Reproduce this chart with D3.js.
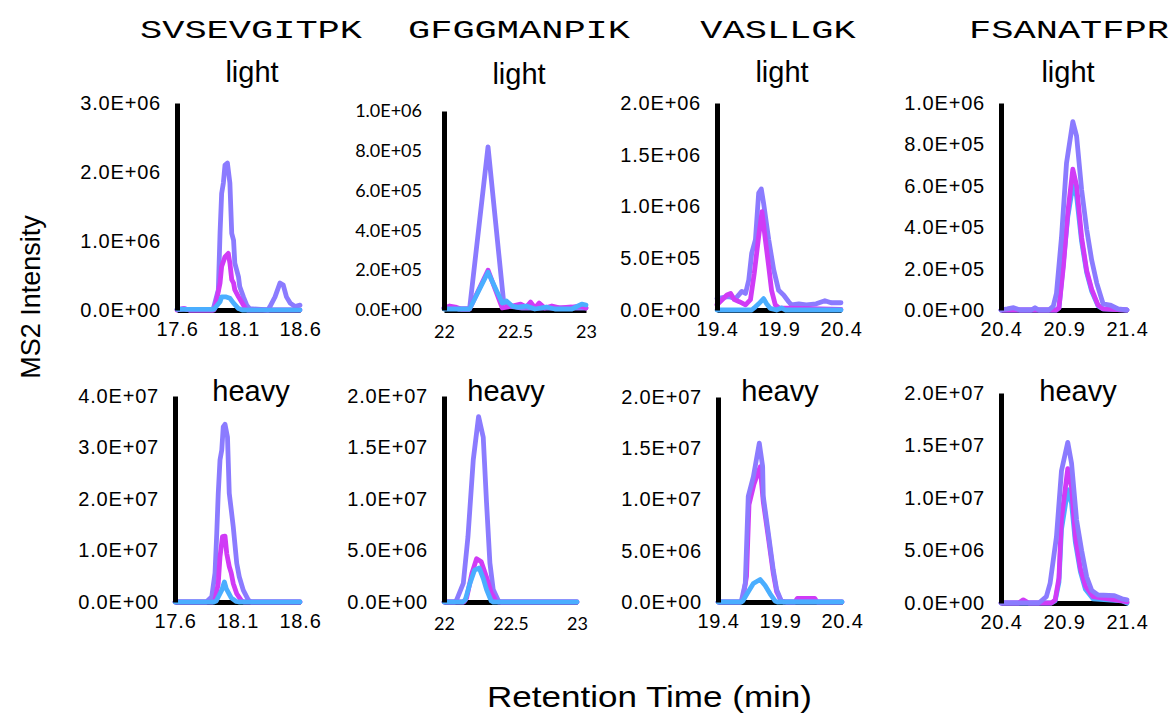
<!DOCTYPE html>
<html>
<head>
<meta charset="utf-8">
<script src="https://cdn.jsdelivr.net/npm/d3@7"></script>
<style>
  body { margin: 0; background: #fff; }
  svg { display: block; }
</style>
</head>
<body>
<div id="chart"></div>
<script>
// peptides / panels
const peptides = ['SVSEVGITPK', 'GFGGMANPIK', 'VASLLGK', 'FSANATFPR'];
const states = ['light', 'heavy'];
const xDomains = [[17.6, 18.6], [22, 23], [19.4, 20.4], [20.4, 21.4]];
const xTickVals = [[17.6, 18.1, 18.6], [22, 22.5, 23], [19.4, 19.9, 20.4], [20.4, 20.9, 21.4]];
const yMaxLight = [3e6, 1e6, 2e6, 1e6];
const yStepLight = [1e6, 2e5, 5e5, 2e5];
const yMaxHeavy = [4e7, 2e7, 2e7, 2e7];
const yStepHeavy = [1e7, 5e6, 5e6, 5e6];

// transitions: [retention time, intensity]  (1 = violet, 2 = magenta, 3 = blue)
const svsL1 = [[17.6,0.01e6],[17.65,0.02e6],[17.7,0],[17.89,0],[17.9,0.05e6],[17.936,0.29e6],[17.95,1.12e6],[17.963,1.69e6],[17.977,1.84e6],[17.99,2.1e6],[18.01,2.13e6],[18.03,1.84e6],[18.045,1.11e6],[18.06,1.01e6],[18.07,0.68e6],[18.10,0.48e6],[18.11,0.34e6],[18.14,0.19e6],[18.167,0.07e6],[18.19,0.02e6],[18.34,0],[18.356,0.05e6],[18.397,0.19e6],[18.437,0.39e6],[18.464,0.36e6],[18.49,0.19e6],[18.52,0.1e6],[18.56,0.05e6],[18.6,0.07e6]];
const svsL2 = [[17.6,0],[17.66,0.02e6],[17.7,0],[17.9,0],[17.91,0.04e6],[17.95,0.39e6],[17.963,0.63e6],[17.99,0.77e6],[18.017,0.82e6],[18.03,0.68e6],[18.045,0.44e6],[18.06,0.39e6],[18.07,0.29e6],[18.10,0.19e6],[18.13,0.1e6],[18.15,0.04e6],[18.17,0],[18.6,0]];
const svsL3 = [[17.6,0.01e6],[17.9,0.01e6],[17.95,0.12e6],[17.963,0.19e6],[18.0,0.19e6],[18.03,0.17e6],[18.06,0.1e6],[18.1,0.02e6],[18.13,0],[18.6,0]];

const gfgL1 = [[22,0.01e6],[22.05,0.015e6],[22.1,0.005e6],[22.18,0.005e6],[22.31,0.82e6],[22.42,0.04e6],[22.46,0.02e6],[22.55,0.01e6],[22.7,0.01e6],[23,0.01e6]];
const gfgL2 = [[22,0.01e6],[22.04,0.02e6],[22.08,0.015e6],[22.12,0.005e6],[22.18,0.005e6],[22.31,0.2e6],[22.41,0.01e6],[22.48,0.02e6],[22.54,0.03e6],[22.58,0.015e6],[22.61,0.04e6],[22.64,0.01e6],[22.67,0.035e6],[22.71,0.01e6],[22.76,0.02e6],[22.82,0.01e6],[22.9,0.015e6],[22.96,0.02e6],[23,0.01e6]];
const gfgL3 = [[22,0.005e6],[22.18,0.005e6],[22.31,0.19e6],[22.41,0.035e6],[22.44,0.045e6],[22.48,0.02e6],[22.52,0.015e6],[22.58,0.02e6],[22.64,0.005e6],[22.72,0.015e6],[22.78,0.005e6],[22.9,0.005e6],[22.97,0.03e6],[23,0.025e6]];

const vasL1 = [[19.4,0.11e6],[19.49,0.13e6],[19.55,0.11e6],[19.6,0.18e6],[19.63,0.16e6],[19.656,0.29e6],[19.68,0.55e6],[19.71,0.68e6],[19.736,1.13e6],[19.757,1.17e6],[19.776,1.03e6],[19.817,0.68e6],[19.857,0.39e6],[19.897,0.19e6],[19.937,0.145e6],[19.978,0.08e6],[20.0,0.05e6],[20.06,0.06e6],[20.12,0.05e6],[20.2,0.06e6],[20.27,0.09e6],[20.32,0.07e6],[20.4,0.07e6]];
const vasL2 = [[19.4,0.05e6],[19.48,0.145e6],[19.51,0.16e6],[19.54,0.1e6],[19.58,0.08e6],[19.63,0.05e6],[19.67,0.1e6],[19.7,0.35e6],[19.736,0.71e6],[19.763,0.95e6],[19.79,0.68e6],[19.817,0.42e6],[19.84,0.19e6],[19.87,0.05e6],[19.9,0.02e6],[20.4,0.005e6]];
const vasL3 = [[19.4,0],[19.68,0],[19.7,0.02e6],[19.736,0.06e6],[19.776,0.11e6],[19.8,0.06e6],[19.83,0.015e6],[19.88,0],[19.92,0.02e6],[19.95,0],[20.4,0]];

const fsaL1 = [[20.4,0],[20.45,0.005e6],[20.5,0.011e6],[20.55,0],[20.64,0],[20.67,0.011e6],[20.7,0],[20.78,0],[20.815,0.019e6],[20.84,0.08e6],[20.88,0.35e6],[20.92,0.71e6],[20.97,0.91e6],[21.0,0.84e6],[21.04,0.58e6],[21.08,0.39e6],[21.12,0.24e6],[21.16,0.13e6],[21.21,0.03e6],[21.265,0.024e6],[21.33,0.005e6],[21.4,0]];
const fsaL2 = [[20.4,0],[20.84,0],[20.86,0.01e6],[20.895,0.21e6],[20.93,0.47e6],[20.97,0.68e6],[21.0,0.6e6],[21.04,0.35e6],[21.08,0.19e6],[21.12,0.1e6],[21.17,0.024e6],[21.21,0.005e6],[21.4,0]];
const fsaL3 = [[20.4,0],[20.84,0],[20.86,0.01e6],[20.895,0.23e6],[20.93,0.45e6],[20.97,0.6e6],[21.0,0.55e6],[21.04,0.33e6],[21.08,0.18e6],[21.12,0.09e6],[21.17,0.02e6],[21.21,0.005e6],[21.4,0]];

const svsH1 = [[17.6,0],[17.85,0],[17.894,1.0e6],[17.92,5.6e6],[17.934,13.3e6],[17.946,21.1e6],[17.96,27.6e6],[17.974,29.5e6],[17.986,34e6],[18.0,34.5e6],[18.02,32e6],[18.034,21.1e6],[18.05,17.9e6],[18.066,14.6e6],[18.094,7.5e6],[18.114,4.9e6],[18.146,2.3e6],[18.186,0.4e6],[18.21,0],[18.6,0]];
const svsH2 = [[17.6,0],[17.9,0],[17.92,0.4e6],[17.946,3.6e6],[17.96,8.8e6],[17.98,12.7e6],[18.0,12.8e6],[18.014,9.4e6],[18.034,6.9e6],[18.05,5.6e6],[18.066,3.6e6],[18.094,1.6e6],[18.13,0.3e6],[18.15,0],[18.6,0]];
const svsH3 = [[17.6,0],[17.91,0],[17.93,0.2e6],[17.974,2.3e6],[17.995,3.9e6],[18.01,2.6e6],[18.05,0.8e6],[18.09,0.1e6],[18.11,0],[18.6,0]];

const gfgH1 = [[22,0],[22.08,0],[22.095,0.2e6],[22.145,1.8e6],[22.18,6.3e6],[22.22,13.8e6],[22.26,18e6],[22.295,16e6],[22.32,9.6e6],[22.345,3.8e6],[22.37,1.2e6],[22.41,0.1e6],[22.43,0],[23,0]];
const gfgH2 = [[22,0],[22.15,0],[22.17,0.4e6],[22.21,2.8e6],[22.245,4.2e6],[22.28,3.9e6],[22.32,2.4e6],[22.355,0.9e6],[22.39,0.1e6],[22.41,0],[23,0]];
const gfgH3 = [[22,0],[22.14,0],[22.16,0.2e6],[22.195,1.8e6],[22.23,3.1e6],[22.265,3.3e6],[22.295,2.3e6],[22.32,1.2e6],[22.355,0.1e6],[22.37,0],[23,0]];

const vasH1 = [[19.4,0],[19.58,0],[19.59,0.2e6],[19.62,1.8e6],[19.644,10.3e6],[19.685,12.2e6],[19.733,15.5e6],[19.76,13.2e6],[19.765,10.3e6],[19.806,6.7e6],[19.846,3.1e6],[19.873,1.2e6],[19.91,0.1e6],[19.93,0],[20.4,0]];
const vasH2 = [[19.4,0],[19.58,0],[19.6,0.3e6],[19.63,2.5e6],[19.65,9.5e6],[19.69,11.5e6],[19.74,13.2e6],[19.765,9.8e6],[19.806,6.3e6],[19.846,2.8e6],[19.873,1e6],[19.91,0.1e6],[19.95,0],[20.02,0],[20.04,0.35e6],[20.18,0.35e6],[20.2,0],[20.4,0]];
const vasH3 = [[19.4,0],[19.59,0],[19.6,0.1e6],[19.644,1.0e6],[19.685,1.8e6],[19.74,2.2e6],[19.78,1.6e6],[19.82,0.8e6],[19.86,0.1e6],[19.88,0],[20.4,0]];

const fsaH1 = [[20.4,0],[20.7,0],[20.76,0.6e6],[20.79,1.9e6],[20.84,6.3e6],[20.88,12.6e6],[20.93,15.3e6],[20.96,13.3e6],[21.0,7.9e6],[21.04,5.0e6],[21.08,2.5e6],[21.12,1.2e6],[21.17,0.76e6],[21.3,0.7e6],[21.36,0.4e6],[21.4,0.3e6]];
const fsaH2 = [[20.4,0],[20.54,0],[20.577,0.3e6],[20.62,0],[20.8,0],[20.83,0.3e6],[20.86,2.4e6],[20.88,8e6],[20.93,12.8e6],[20.96,11e6],[20.99,6.3e6],[21.03,3.3e6],[21.07,1.6e6],[21.13,0.6e6],[21.36,0.2e6],[21.4,0.1e6]];
const fsaH3 = [[20.4,0],[20.8,0],[20.83,0.2e6],[20.86,2e6],[20.88,7e6],[20.93,10.8e6],[20.96,9.5e6],[20.99,5.8e6],[21.03,3e6],[21.07,1.3e6],[21.13,0.4e6],[21.36,0.2e6],[21.4,0]];

const lightSeries = [[svsL1, svsL2, svsL3], [gfgL1, gfgL2, gfgL3], [vasL1, vasL2, vasL3], [fsaL1, fsaL2, fsaL3]];
const heavySeries = [[svsH1, svsH2, svsH3], [gfgH1, gfgH2, gfgH3], [vasH1, vasH2, vasH3], [fsaH1, fsaH2, fsaH3]];

const colors = ['#8b7bff', '#d03bf6', '#4aaeff'];

// layout (pixel boxes of each plot area)
const W = 1171, H = 717;
const boxX0 = [[177, 444, 717, 1001], [175, 444, 718, 1001]];
const boxX1 = [[300, 586, 841, 1127], [300, 577, 842, 1127]];
const boxY0 = [[103, 111, 103, 103], [396, 396, 397, 393]];
const boxY1 = [[310, 310, 310, 310], [602, 602, 602, 603]];
// draw order per panel (last on top)
const drawOrder = [[[0, 1, 2], [0, 1, 2], [0, 1, 2], [2, 1, 0]], [[0, 1, 2], [0, 1, 2], [1, 0, 2], [2, 1, 0]]];

const sans = 'Liberation Sans, Arial, Helvetica, sans-serif';
const calib = 'Lato, Carlito, Calibri, sans-serif';

const fmtE = v => {
  const [m, e] = v.toExponential(1).split('e');
  const n = +e;
  return m + 'E' + (n < 0 ? '-' : '+') + String(Math.abs(n)).padStart(2, '0');
};

const svg = d3.select('#chart').append('svg')
  .attr('width', W).attr('height', H);

// headings
const pepX = [251, 519, 778, 1069];
svg.selectAll('text.pep').data(peptides).enter().append('text')
  .attr('class', 'pep')
  .attr('x', (d, i) => pepX[i] - d.length * 22.2 / 2)
  .attr('y', 38)
  .attr('textLength', d => d.length * 22.2)
  .attr('lengthAdjust', 'spacingAndGlyphs')
  .style('font-family', '"Courier New", "Liberation Mono", monospace')
  .style('font-size', '26px')
  .text(d => d);

const stateX = [[252, 519, 782, 1068], [251, 506, 780, 1078]];
const stateY = [82, 401];

[0, 1].forEach(r => {
  xDomains.forEach((dom, c) => {
    const x0 = boxX0[r][c], x1 = boxX1[r][c], y0 = boxY0[r][c], y1 = boxY1[r][c];
    const yMax = r === 0 ? yMaxLight[c] : yMaxHeavy[c];
    const yStep = r === 0 ? yStepLight[c] : yStepHeavy[c];
    const series = r === 0 ? lightSeries[c] : heavySeries[c];
    const isCal = c === 1 && r === 0;  // this panel was rendered with a different font

    const x = d3.scaleLinear().domain(dom).range([x0, x1]);
    const y = d3.scaleLinear().domain([0, yMax]).range([y1, y0]);
    const g = svg.append('g');

    // state label
    g.append('text')
      .attr('x', stateX[r][c]).attr('y', stateY[r] + (isCal ? 2 : 0))
      .attr('text-anchor', 'middle')
      .style('font-family', sans).style('font-size', '29px')
      .text(states[r]);

    // x axis
    const xAxis = g.append('g')
      .attr('transform', `translate(0,${y1})`)
      .call(d3.axisBottom(x).tickValues(xTickVals[c]).tickSize(0).tickSizeOuter(0)
        .tickPadding(c === 1 ? 15 : 12).tickFormat(d => String(d)));
    xAxis.select('.domain').attr('stroke', '#000').attr('stroke-width', 5);
    xAxis.selectAll('text')
      .style('font-family', c === 1 ? calib : sans)
      .style('font-size', c === 1 ? '18px' : '20px')
      .style('letter-spacing', c === 1 ? '0px' : '0.8px')
      .attr('fill', '#000');

    // lines
    const line = d3.line().x(d => x(d[0])).y(d => y(d[1]));
    drawOrder[r][c].forEach(k => {
      g.append('path')
        .datum(series[k])
        .attr('d', line)
        .attr('fill', 'none')
        .attr('stroke', colors[k])
        .attr('stroke-width', 4.8)
        .attr('stroke-linejoin', 'round')
        .attr('stroke-linecap', 'round');
    });

    // y axis
    const yTicks = d3.range(0, yMax + yStep / 2, yStep);
    const yAxis = g.append('g')
      .attr('transform', `translate(${x0},0)`)
      .call(d3.axisLeft(y).tickValues(yTicks).tickSize(0).tickSizeOuter(0)
        .tickPadding(isCal ? 22 : 16).tickFormat(fmtE));
    yAxis.select('.domain').attr('stroke', '#000').attr('stroke-width', 5);
    yAxis.selectAll('text')
      .style('font-family', isCal ? calib : sans)
      .style('font-size', isCal ? '18px' : '20px')
      .style('letter-spacing', isCal ? '0px' : '0.8px')
      .attr('fill', '#000');
  });
});

// axis titles
svg.append('text')
  .attr('transform', 'translate(40,297) rotate(-90)')
  .attr('text-anchor', 'middle')
  .style('font-family', sans).style('font-size', '27px')
  .text('MS2 Intensity');

svg.append('text')
  .attr('x', 487).attr('y', 707)
  .attr('textLength', 325)
  .attr('lengthAdjust', 'spacingAndGlyphs')
  .style('font-family', sans).style('font-size', '29px')
  .text('Retention Time (min)');
</script>
</body>
</html>
